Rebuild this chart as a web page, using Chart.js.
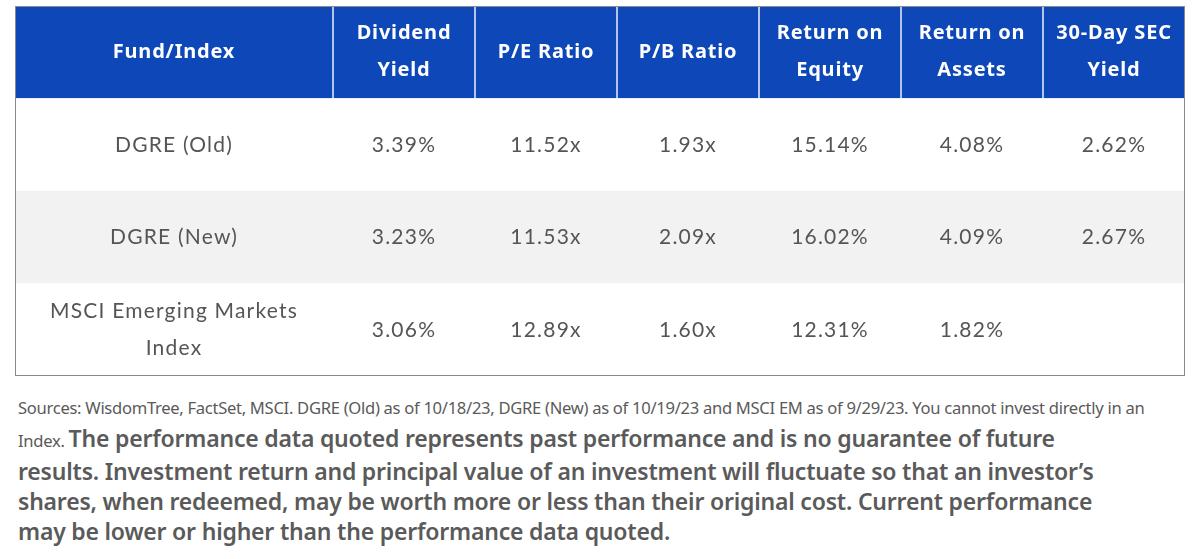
<!DOCTYPE html>
<html>
<head>
<meta charset="utf-8">
<script src="https://cdn.jsdelivr.net/npm/chart.js@4"></script>
<style>
  body { margin: 0; background: #fff; width: 1200px; height: 559px; overflow: hidden; font-family: "Noto Sans", sans-serif; }
  #wrap { position: relative; width: 1200px; height: 380px; }
  #note { position: absolute; left: 18px; top: 393px; width: 1180px; color: #5a5a5a; white-space: nowrap; }
  #note .small { font-size: 16.6px; line-height: 30px; letter-spacing: -0.3px; }
  #note .big { font-size: 23px; font-weight: 600; line-height: 30px; letter-spacing: -0.2px; }
</style>
</head>
<body>
<div id="wrap"><canvas id="c"></canvas></div>
<div id="note"><span class="small">Sources: WisdomTree, FactSet, MSCI. DGRE (Old) as of 10/18/23, DGRE (New) as of 10/19/23 and MSCI EM as of 9/29/23. You cannot invest directly in an<br>Index. </span><span class="big">The performance data quoted represents past performance and is no guarantee of future<br>results. Investment return and principal value of an investment will fluctuate so that an investor’s<br>shares, when redeemed, may be worth more or less than their original cost. Current performance<br>may be lower or higher than the performance data quoted.</span></div>
<script>
// table content
const headers = [['Fund/Index'], ['Dividend', 'Yield'], ['P/E Ratio'], ['P/B Ratio'], ['Return on', 'Equity'], ['Return on', 'Assets'], ['30-Day SEC', 'Yield']];
const funds = [['DGRE (Old)'], ['DGRE (New)'], ['MSCI Emerging Markets', 'Index']];
const dividendYield = ['3.39%', '3.23%', '3.06%'];
const peRatio = ['11.52x', '11.53x', '12.89x'];
const pbRatio = ['1.93x', '2.09x', '1.60x'];
const returnOnEquity = ['15.14%', '16.02%', '12.31%'];
const returnOnAssets = ['4.08%', '4.09%', '1.82%'];
const secYield = ['2.62%', '2.67%', ''];

// layout: column edges in table units
const colEdges = [0, 318, 460, 602, 744, 886, 1028, 1170];
const rowKeys = ['head', 'r1', 'r2', 'r3'];
const rowFills = ['#0d47b8', '#ffffff', '#f2f2f2', '#ffffff'];

const columns = [funds, dividendYield, peRatio, pbRatio, returnOnEquity, returnOnAssets, secYield];

const datasets = columns.map((col, i) => ({
  label: 'col' + i,
  data: rowKeys.map(() => [colEdges[i], colEdges[i + 1]]),
  backgroundColor: rowFills,
  borderColor: rowKeys.map((k, r) => r === 0 ? '#ffffff' : 'rgba(0,0,0,0)'),
  borderWidth: rowKeys.map((k, r) => r === 0 ? { left: i === 0 ? 0 : 1, right: i === 6 ? 0 : 1, top: 0, bottom: 0 } : 0),
  borderSkipped: false,
  categoryPercentage: 1,
  barPercentage: 1,
  grouped: false
}));

const textPlugin = {
  id: 'cellText',
  afterDatasetsDraw(chart) {
    const ctx = chart.ctx;
    const xs = chart.scales.x, ys = chart.scales.y;
    ctx.save();
    ctx.textAlign = 'center';
    ctx.textBaseline = 'middle';
    columns.forEach((col, i) => {
      const cx = xs.getPixelForValue((colEdges[i] + colEdges[i + 1]) / 2);
      const cells = [headers[i]].concat(col.map(v => Array.isArray(v) ? v : [v]));
      cells.forEach((lines, r) => {
        const cy = ys.getPixelForValue(r);
        if (r === 0) {
          ctx.fillStyle = '#ffffff';
          ctx.font = 'bold 20px "Noto Sans"';
          ctx.letterSpacing = '0.8px';
        } else {
          ctx.fillStyle = '#555555';
          ctx.font = '21px Lato';
          ctx.letterSpacing = '1.2px';
        }
        const lh = 37;
        lines.forEach((t, k) => {
          ctx.fillText(t, cx, cy + (k - (lines.length - 1) / 2) * lh);
        });
      });
    });
    // outer border
    const a = chart.chartArea;
    ctx.strokeStyle = '#8a8a8a';
    ctx.lineWidth = 1;
    ctx.strokeRect(a.left + 0.5, a.top + 0.5, a.right - a.left - 1, a.bottom - a.top - 1);
    ctx.restore();
  }
};

new Chart(document.getElementById('c'), {
  type: 'bar',
  data: { labels: rowKeys, datasets },
  options: {
    indexAxis: 'y',
    responsive: true,
    maintainAspectRatio: false,
    animation: false,
    layout: { padding: { left: 15, right: 15, top: 6, bottom: 4 } },
    scales: {
      x: { type: 'linear', min: 0, max: 1170, display: false },
      y: { display: false }
    },
    plugins: { legend: { display: false }, tooltip: { enabled: false } }
  },
  plugins: [textPlugin]
});
</script>
</body>
</html>
